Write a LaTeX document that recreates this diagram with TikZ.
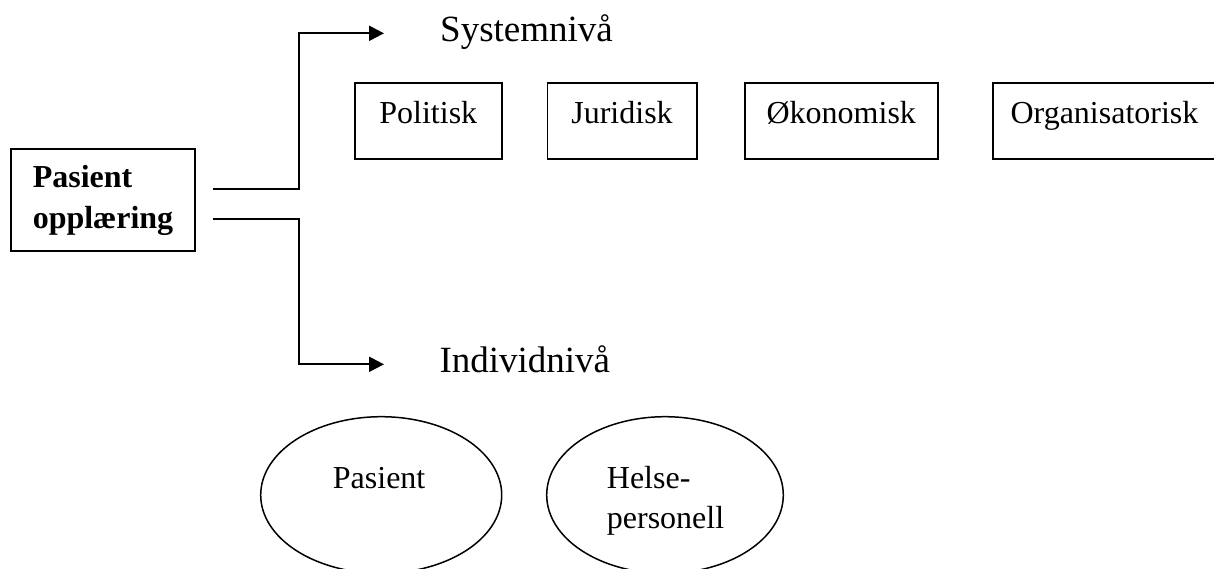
\documentclass[tikz,border=0pt]{standalone}
\usepackage{fontspec}
\setmainfont{Liberation Serif}
\usetikzlibrary{arrows.meta,shapes.geometric}
\begin{document}
\begin{tikzpicture}[x=1pt,y=-1pt,
  txt/.style={font=\fontsize{32}{40}\selectfont, inner sep=0pt},
  lvl/.style={font=\fontsize{37}{44}\selectfont, inner sep=0pt, anchor=base west},
  topbox/.style={draw, line width=1.8pt, inner sep=0pt, minimum height=76pt,
    text height=24pt, text depth=19.4pt, font=\fontsize{32}{40}\selectfont},
  mainbox/.style={draw, line width=1.8pt, inner sep=0pt, minimum width=184pt,
    minimum height=102pt, align=left, font=\fontsize{32}{41}\selectfont\bfseries},
  oval/.style={draw, ellipse, line width=1.5pt, inner sep=0pt, minimum height=156.6pt},
  conn/.style={line width=2.2pt, -{Triangle[length=15pt,width=15pt]}}]
\useasboundingbox (0,0) rectangle (1214,568);

% main box
\node[mainbox] (po) at (103,200) {Pasient\\oppl\ae ring};

% level labels
\node[lvl] (sys) at (440,41.7) {Systemnivå};
\node[lvl] (ind) at (439.3,372.7) {Individnivå};

% system-level boxes
\node[topbox, minimum width=146.6pt] (pol) at (428.3,120.7) {Politisk};
\node[topbox, minimum width=149.3pt] (jur) at (622.05,120.7) {Juridisk};
\node[topbox, minimum width=192.6pt] (oko) at (841.3,120.7) {Økonomisk};
\node[topbox, minimum width=223pt] (org) at (1104.5,120.7) {Organisatorisk};

% individual-level ellipses
\node[oval, minimum width=241pt] (pas) at (381.2,495) {};
\node[oval, minimum width=236.6pt] (hel) at (665,495) {};
\node[txt, anchor=base west] (pastxt) at (332.7,488) {Pasient};
\node[txt, anchor=north west, align=left] (heltxt) at (606.7,466.1) {Helse-\\personell};

% connectors
\coordinate (s1) at ([shift={(17,-11)}]po.east);
\coordinate (s2) at ([shift={(17,19)}]po.east);
\coordinate (k1) at (299,33.3);
\coordinate (k2) at (299,364.3);
\coordinate (t1) at (384,33.3);
\coordinate (t2) at (384,364.3);
\draw[conn] (s1) -| (k1) -- (t1);
\draw[conn] (s2) -| (k2) -- (t2);
\end{tikzpicture}
\end{document}
